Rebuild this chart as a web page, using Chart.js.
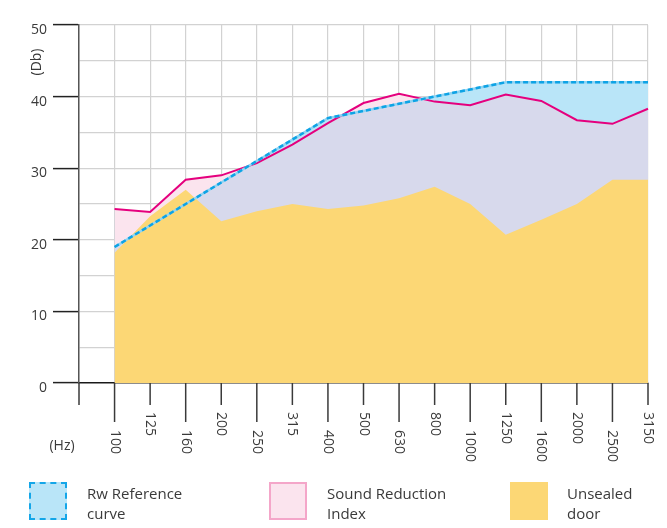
<!DOCTYPE html>
<html><head><meta charset="utf-8">
<script src="https://cdn.jsdelivr.net/npm/chart.js@4/dist/chart.umd.min.js"></script>
<style>
html,body{margin:0;padding:0;background:#fff;}
#wrap{position:relative;width:667px;height:528px;overflow:hidden;}
canvas{position:absolute;left:0;top:0;}
.leg{position:absolute;top:483px;font-family:'Open Sans',sans-serif;font-size:15px;line-height:20px;color:#3a3a3a;}
.box{position:absolute;top:482px;width:38px;height:38px;box-sizing:border-box;}
</style></head>
<body><div id="wrap"><canvas id="c" width="667" height="528"></canvas>
<div class="box" style="left:29px;background:#b9e5f8;border:2px dashed #14a6e8"></div>
<div class="leg" style="left:87px">Rw Reference<br>curve</div>
<div class="box" style="left:269px;background:#fbe4ee;border:2px solid #f4a6c9"></div>
<div class="leg" style="left:327px">Sound Reduction<br>Index</div>
<div class="box" style="left:510px;background:#fcd775;"></div>
<div class="leg" style="left:567px">Unsealed<br>door</div>
</div>
<script>
const frequencies = ['100','125','160','200','250','315','400','500','630','800','1000','1250','1600','2000','2500','3150'];
const rwReference = [19,22,25,28,31,34,37,38,39,40,41,42,42,42,42,42];
const soundReduction = [24.3,23.9,28.4,29.0,30.7,33.3,36.3,39.1,40.4,39.3,38.8,40.3,39.4,36.7,36.2,38.3];
const unsealedDoor = [18.2,23.3,27.0,22.6,24.0,25.0,24.3,24.8,25.8,27.4,25.0,20.7,22.8,25.0,28.4,28.4];
const yAxisLabels = ['0','10','20','30','40','50'];

const TEXT = '#3a3a3a';
const FONT = '"Open Sans", sans-serif';

const axisDecor = {
  id: 'axisDecor',
  afterDraw(chart) {
    const {ctx, scales: {x, y}} = chart;
    const base = y.getPixelForValue(0);
    ctx.save();
    ctx.strokeStyle = '#3a3a3a';
    ctx.lineWidth = 1.5;
    x.ticks.forEach((t, i) => {
      const px = x.getPixelForTick(i);
      const long = i % 2 === 1;
      ctx.beginPath();
      ctx.moveTo(px, base);
      ctx.lineTo(px, base + (long ? 39 : 22));
      ctx.stroke();
      const lbl = x.getLabelForValue(i);
      if (lbl) {
        ctx.save();
        ctx.translate(px, base + (long ? 47 : 29));
        ctx.rotate(Math.PI / 2);
        ctx.textAlign = 'left';
        ctx.textBaseline = 'middle';
        ctx.fillStyle = TEXT;
        ctx.font = '14px ' + FONT;
        ctx.fillText(lbl, 0, 0);
        ctx.restore();
      }
    });
    ctx.fillStyle = TEXT;
    ctx.font = '14px ' + FONT;
    ctx.textAlign = 'center';
    ctx.textBaseline = 'middle';
    ctx.fillText('(Hz)', 62, 446);
    ctx.translate(37, 62);
    ctx.rotate(-Math.PI / 2);
    ctx.fillText('(Db)', 0, 0);
    ctx.restore();
  }
};

new Chart(document.getElementById('c'), {
  type: 'line',
  data: {
    labels: [''].concat(frequencies),
    datasets: [
      {label: 'Unsealed door', data: [null].concat(unsealedDoor), fill: 'origin',
       backgroundColor: '#fcd775', borderWidth: 0, pointRadius: 0, tension: 0},
      {label: 'Rw Reference curve', data: [null].concat(rwReference),
       fill: {target: 3, above: '#b9e5f8', below: '#fbe4ee'},
       borderColor: '#0ea3e5', borderDash: [5, 3], borderWidth: 2.5, pointRadius: 0, tension: 0},
      {label: 'rw-base', data: [null].concat(rwReference), fill: false,
       borderColor: '#8fd4f3', borderWidth: 2.5, pointRadius: 0, tension: 0},
      {label: 'Sound Reduction Index', data: [null].concat(soundReduction), fill: 'origin',
       backgroundColor: '#d7d9ec', borderColor: '#e5007e', borderWidth: 2, pointRadius: 0, tension: 0}
    ]
  },
  options: {
    responsive: false,
    animation: false,
    layout: {padding: {left: 0, right: 19, top: 25, bottom: 0}},
    plugins: {legend: {display: false}, tooltip: {enabled: false}, filler: {drawTime: 'beforeDatasetsDraw'}},
    scales: {
      x: {
        type: 'category', offset: false,
        grid: {color: '#d2d2d2', lineWidth: 1.2, drawTicks: false},
        border: {display: true, color: '#1a1a1a', width: 1.5},
        ticks: {display: false},
        afterFit(s) { s.height = 145; }
      },
      y: {
        min: 0, max: 50,
        ticks: {
          stepSize: 5, autoSkip: false, padding: 6, labelOffset: 5,
          color: TEXT, font: {family: FONT, size: 14},
          callback: v => (v % 10 === 0 ? yAxisLabels[v / 10] : '')
        },
        grid: {
          color: c => (c.tick && c.tick.value === 0 ? 'rgba(0,0,0,0)' : '#d2d2d2'),
          lineWidth: 1.2, tickLength: 26, tickWidth: 1.5,
          tickColor: c => (c.tick && c.tick.value % 10 === 0 ? '#222' : 'rgba(0,0,0,0)')
        },
        border: {color: '#555', width: 1.5},
        afterFit(s) { s.width = 79; }
      }
    }
  },
  plugins: [axisDecor]
});
</script>
</body></html>
